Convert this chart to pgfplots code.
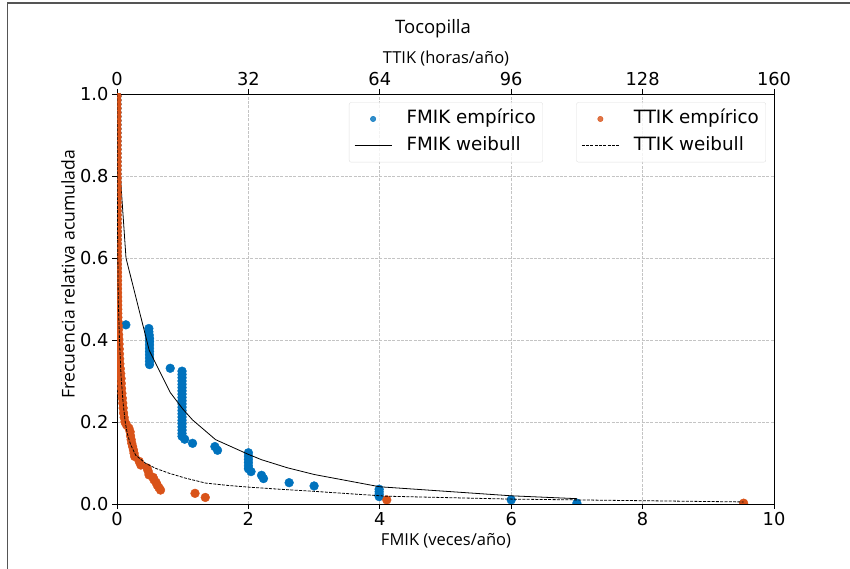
\documentclass[border=0pt]{standalone}
\usepackage{pgfplots}
\pgfplotsset{compat=1.18}
\usepackage{fontspec}
\setmainfont{DejaVu Sans}
\newfontfamily\lblfont{Open Sans}
\definecolor{fmikblue}{HTML}{0072BD}
\definecolor{ttikorange}{HTML}{D95319}
\definecolor{gridgray}{HTML}{C4C4C4}
\definecolor{framegray}{HTML}{555555}
\newcommand{\tickfont}{\fontsize{17.8}{20}\selectfont}
\newcommand{\legfont}{\fontsize{18.3}{20}\selectfont}
\pgfplotsset{
  common/.style={
    at={(117pt,65pt)}, anchor=south west,
    width=657pt, height=410pt, scale only axis,
    ymin=0, ymax=1,
    tick align=outside, major tick length=5pt,
    every tick/.style={black, line width=0.9pt},
    axis line style={line width=0.9pt},
    tick label style={font=\tickfont},
    clip marker paths=true,
    legend cell align=left,
    legend style={font=\legfont, draw=gray!25, rounded corners=2pt, fill=white,
      fill opacity=0.8, text opacity=1, inner xsep=5pt, inner ysep=6pt,
      row sep=5.7pt,
      nodes={inner sep=2pt, text height=13pt, text depth=4pt},
      /tikz/every odd column/.append style={column sep=12.6pt}},
  },
}
\begin{document}
\begin{tikzpicture}
\useasboundingbox (0,0) rectangle (850pt,569pt);
\draw[framegray, line width=1.2pt] (7.5pt,0pt) -- (7.5pt,566pt) -- (850pt,566pt);
% ---------------- FMIK axis (bottom) ----------------
\begin{axis}[common,
  xmin=0, xmax=10,
  xtick={0,2,4,6,8,10}, xticklabels={0,2,4,6,8,10},
  ytick={0,0.2,0.4,0.6,0.8,1.0}, yticklabels={0.0,0.2,0.4,0.6,0.8,1.0},
  xtick pos=bottom, ytick pos=left,
  grid=major, major grid style={gridgray, line width=0.7pt, dash pattern=on 3pt off 1.3pt},
  legend style={at={(0.3531,0.9798)}, anchor=north west},
]
\addlegendimage{legend image code/.code={\fill[fmikblue] (18.5pt,0pt) circle (2.7pt);}}
\addlegendentry{FMIK empírico}
\addlegendimage{legend image code/.code={\draw[black, line width=0.8pt] (0pt,0pt) -- (37pt,0pt);}}
\addlegendentry{FMIK weibull}
% empirical FMIK
\addplot[only marks, mark=*, mark size=4.4pt, color=fmikblue, forget plot] coordinates {
(0,0.995)(0,0.985)(0,0.975)(0,0.965)(0,0.955)(0,0.945)(0,0.935)(0,0.925)(0,0.915)(0,0.905)
(0,0.895)(0,0.885)(0,0.875)(0,0.865)(0,0.855)(0,0.845)(0,0.835)(0,0.825)(0,0.815)(0,0.805)
(0,0.795)(0,0.785)(0,0.775)(0,0.765)(0,0.755)(0,0.745)(0,0.735)(0,0.725)(0,0.715)(0,0.705)
(0,0.695)(0,0.685)(0,0.675)(0,0.665)(0,0.655)(0,0.645)(0,0.635)(0,0.625)(0,0.615)(0,0.605)
(0,0.595)(0,0.585)(0,0.575)(0,0.565)(0,0.555)(0,0.545)(0,0.535)(0,0.525)(0,0.515)(0,0.505)
(0,0.495)(0,0.485)(0,0.475)(0,0.465)(0,0.455)(0,0.445)
(0.135,0.437)
(0.485,0.428)(0.485,0.420)(0.490,0.412)(0.495,0.404)(0.495,0.396)(0.495,0.388)(0.495,0.380)
(0.495,0.372)(0.495,0.364)(0.495,0.356)(0.495,0.348)(0.495,0.340)
(0.81,0.331)
(0.99,0.324)(0.99,0.316)(0.99,0.308)(0.99,0.300)(0.99,0.292)(0.99,0.284)(0.99,0.276)
(0.99,0.268)(0.99,0.260)(0.99,0.252)(0.99,0.244)(0.99,0.236)(0.99,0.228)(0.99,0.220)
(0.99,0.212)(0.99,0.204)(0.99,0.196)(0.99,0.188)(0.99,0.180)(0.99,0.172)(0.99,0.165)
(1.03,0.158)(1.15,0.148)(1.49,0.140)(1.53,0.131)
(2.0,0.125)(2.0,0.117)(2.0,0.109)(2.0,0.101)(2.0,0.093)(2.0,0.086)
(2.04,0.079)(2.20,0.070)(2.23,0.062)(2.62,0.052)(3.0,0.044)
(3.99,0.036)(3.99,0.030)(3.99,0.024)(3.99,0.018)
(6.0,0.010)(7.0,0.002)
};
% Weibull FMIK
\addplot[black, line width=0.8pt, forget plot] coordinates {
(0,0.92)(0.137,0.60)(0.49,0.375)(0.81,0.272)(1.0,0.232)(1.15,0.205)(1.5,0.157)
(2.0,0.121)(2.2,0.108)(2.6,0.088)(3.0,0.072)(4.0,0.042)(6.0,0.020)(7.0,0.013)
};
\end{axis}
% ---------------- TTIK axis (top) ----------------
\begin{axis}[common,
  xmin=0, xmax=160,
  axis x line*=top, axis y line=none,
  xtick={0,32,64,96,128,160}, xticklabels={0,32,64,96,128,160},
  legend style={at={(0.9878,0.9798)}, anchor=north east},
]
\addlegendimage{legend image code/.code={\fill[ttikorange] (18.5pt,0pt) circle (2.7pt);}}
\addlegendentry{TTIK empírico}
\addlegendimage{legend image code/.code={\draw[black, line width=0.8pt, dash pattern=on 3pt off 1.3pt] (0pt,0pt) -- (37pt,0pt);}}
\addlegendentry{TTIK weibull}
% empirical TTIK
\addplot[only marks, mark=*, mark size=4.4pt, color=ttikorange, forget plot] coordinates {
(0.00,0.995)(0.00,0.985)(0.00,0.975)(0.00,0.965)(0.00,0.955)(0.00,0.945)(0.00,0.935)(0.00,0.925)
(0.00,0.915)(0.00,0.905)(0.02,0.895)(0.02,0.885)(0.02,0.875)(0.02,0.865)(0.02,0.855)(0.02,0.845)
(0.03,0.835)(0.03,0.825)(0.03,0.815)(0.03,0.805)(0.04,0.795)(0.04,0.785)(0.04,0.775)(0.04,0.765)
(0.05,0.755)(0.05,0.745)(0.05,0.735)(0.05,0.725)(0.06,0.715)(0.06,0.705)(0.06,0.695)(0.07,0.685)
(0.07,0.675)(0.07,0.665)(0.08,0.655)(0.08,0.645)(0.08,0.635)(0.09,0.625)(0.09,0.615)(0.10,0.605)
(0.10,0.595)(0.11,0.585)(0.11,0.575)(0.12,0.565)(0.12,0.555)(0.13,0.545)(0.13,0.535)(0.14,0.525)
(0.15,0.515)(0.16,0.505)(0.17,0.495)(0.18,0.485)(0.19,0.475)(0.20,0.465)(0.22,0.455)(0.24,0.445)
(0.30,0.435)(0.35,0.425)(0.40,0.413)(0.45,0.402)(0.50,0.390)(0.55,0.378)(0.60,0.366)(0.65,0.354)
(0.70,0.342)(0.80,0.330)(0.90,0.318)(1.00,0.306)(1.05,0.294)(1.10,0.282)(1.20,0.270)(1.30,0.258)
(1.40,0.246)(1.50,0.234)(1.60,0.222)(1.75,0.211)(1.95,0.200)(2.30,0.193)(2.90,0.185)(3.20,0.176)
(3.30,0.166)(3.45,0.157)(3.60,0.148)(3.80,0.140)(4.00,0.132)(4.15,0.124)(4.30,0.116)
(5.40,0.104)(5.80,0.095)(7.30,0.088)(7.60,0.080)(7.80,0.071)(8.80,0.065)(9.00,0.059)
(9.50,0.053)(9.80,0.046)(10.2,0.040)(10.6,0.034)(19.0,0.026)(21.5,0.016)(65.7,0.010)(152.6,0.002)
};
% Weibull TTIK
\addplot[black, line width=0.8pt, dash pattern=on 3pt off 1.3pt, forget plot] coordinates {
(0,1.0)(0.1,0.70)(0.3,0.50)(0.6,0.40)(1.0,0.31)(1.5,0.245)(2.0,0.20)(2.5,0.172)(3.3,0.145)
(4.55,0.119)(7.0,0.099)(9.4,0.087)(12.7,0.075)(16.7,0.063)(21.6,0.051)(27.3,0.045)(32.2,0.041)
(39.7,0.036)(47.8,0.031)(56.7,0.025)(65.7,0.019)(95.6,0.012)(152.6,0.005)
};
\end{axis}
% ---------------- texts ----------------
\node[font=\lblfont\fontsize{18.5}{20}\selectfont] at (433pt,540pt) {Tocopilla};
\node[font=\lblfont\fontsize{16.5}{20}\selectfont] at (446pt,510pt) {TTIK (horas/año)};
\node[font=\lblfont\fontsize{16.5}{20}\selectfont] at (446pt,28pt) {FMIK (veces/año)};
\node[font=\lblfont\fontsize{17.6}{20}\selectfont, rotate=90] at (68pt,295pt) {Frecuencia relativa acumulada};
\end{tikzpicture}
\end{document}
